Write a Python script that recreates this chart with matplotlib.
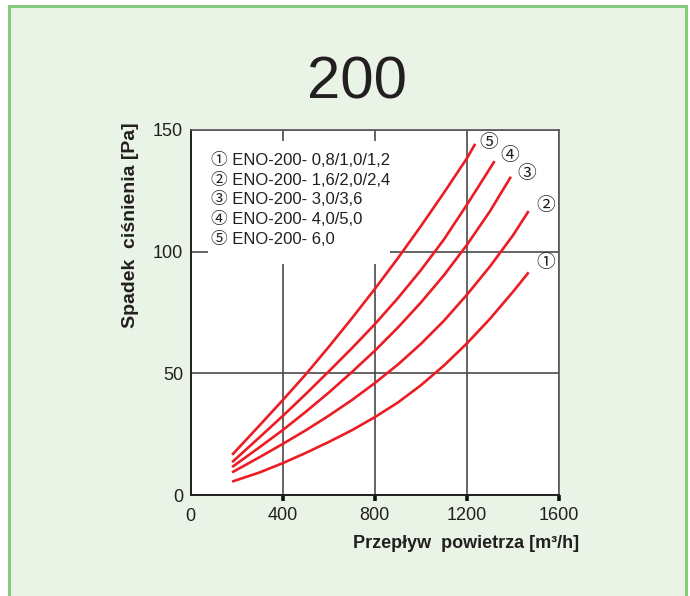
import matplotlib
matplotlib.use("Agg")
import matplotlib.pyplot as plt
from matplotlib.patches import Rectangle

# ---- data ----
flow_1 = [180, 300, 400, 500, 600, 700, 800, 900, 1000, 1100, 1200, 1300, 1400, 1468]
dp_1 = [5.5, 9.3, 13.1, 17.3, 21.8, 26.6, 32.0, 38.0, 45.1, 53.2, 62.3, 72.4, 83.5, 91.5]
flow_2 = [180, 300, 400, 500, 600, 700, 800, 900, 1000, 1100, 1200, 1300, 1400, 1468]
dp_2 = [9.3, 15.6, 21.0, 26.6, 32.6, 39.0, 46.0, 53.6, 62.1, 71.6, 82.3, 93.9, 106.7, 116.7]
flow_3 = [180, 300, 400, 500, 600, 700, 800, 900, 1000, 1100, 1200, 1300, 1391]
dp_3 = [11.5, 19.7, 26.7, 34.2, 42.1, 50.5, 59.3, 68.8, 79.1, 90.3, 102.8, 116.6, 130.8]
flow_4 = [180, 300, 400, 500, 600, 700, 800, 900, 1000, 1100, 1200, 1300, 1320]
dp_4 = [13.5, 23.8, 32.5, 41.5, 50.8, 60.3, 70.2, 80.9, 92.4, 105.0, 119.3, 134.2, 137.2]
flow_5 = [180, 300, 400, 500, 600, 700, 800, 900, 1000, 1100, 1200, 1236]
dp_5 = [16.5, 28.7, 39.0, 49.6, 60.9, 72.6, 84.7, 97.3, 110.5, 124.2, 138.4, 144.3]

curve_marks = ["①", "②", "③", "④", "⑤"]
legend_labels = [
    "① ENO-200- 0,8/1,0/1,2",
    "② ENO-200- 1,6/2,0/2,4",
    "③ ENO-200- 3,0/3,6",
    "④ ENO-200- 4,0/5,0",
    "⑤ ENO-200- 6,0",
]
x_ticks = [0, 400, 800, 1200, 1600]
x_ticklabels = ["", "400", "800", "1200", "1600"]
y_ticks = [0, 50, 100, 150]
title = "200"
xlabel = "Przepływ  powietrza [m³/h]"
ylabel = "Spadek  ciśnienia [Pa]"

FONT = ["Liberation Sans", "Noto Sans CJK JP", "DejaVu Sans"]
plt.rcParams["font.family"] = FONT
TXT = "#231f20"
RED = "#ec1c24"

fig = plt.figure(figsize=(6.9, 5.96), dpi=100)
fig.patch.set_facecolor("white")
frame = Rectangle((9 / 690, -0.05), (686 - 9) / 690, 1 - 6 / 596 + 0.05,
                  transform=fig.transFigure, facecolor="#e9f4e7",
                  edgecolor="#86ca7e", linewidth=2.2, zorder=0)
fig.add_artist(frame)

fig.text(357 / 690, 1 - 83 / 596, title, ha="center", va="center",
         fontsize=43, color=TXT)

ax = fig.add_axes([190.7 / 690, 1 - 495 / 596, (559 - 190.7) / 690, (495 - 130) / 596])
ax.set_facecolor("white")
ax.set_xlim(0, 1600)
ax.set_ylim(0, 150)
ax.set_axisbelow(True)
ax.grid(True, color="#4a4a4a", linewidth=1.2)

for side in ["left", "bottom"]:
    ax.spines[side].set_color("#231f20")
    ax.spines[side].set_linewidth(1.4)
for side in ["top", "right"]:
    ax.spines[side].set_color("#555555")
    ax.spines[side].set_linewidth(1.2)

ax.set_xticks(x_ticks)
ax.set_xticklabels(x_ticklabels)
ax.set_yticks(y_ticks)
ax.tick_params(axis="x", direction="out", length=4, width=2.6, color="#111111",
               labelsize=13, pad=5, labelcolor=TXT)
ax.tick_params(axis="y", length=0, labelsize=13, pad=5.5, labelcolor=TXT)
ax.xaxis.get_major_ticks()[0].tick1line.set_visible(False)
ax.text(0, -0.058, "0", transform=ax.get_xaxis_transform(), ha="center",
        va="center", fontsize=13, color=TXT)

# legend box covering the grid
ax.add_patch(Rectangle((0.047, 0.633), 0.494, 0.337, transform=ax.transAxes,
                       facecolor="white", edgecolor="none", zorder=1))
ax.text(0.054, 0.810, "\n".join(legend_labels), transform=ax.transAxes,
        ha="left", va="center", fontsize=12, color=TXT, linespacing=1.28,
        zorder=3)

flows = [flow_1, flow_2, flow_3, flow_4, flow_5]
dps = [dp_1, dp_2, dp_3, dp_4, dp_5]
offsets = [(17, 9), (17, 5), (16, 2), (15, 5), (14, 0)]
for f, d, mark, off in zip(flows, dps, curve_marks, offsets):
    ax.plot(f, d, color=RED, linewidth=1.9, solid_joinstyle="round",
            solid_capstyle="butt", zorder=2)
    ax.annotate(mark, (f[-1], d[-1]), xytext=off, textcoords="offset pixels",
                ha="center", va="center", fontsize=13.5, color=TXT)

ax.set_xlabel(xlabel, fontsize=13, fontweight="bold", color=TXT)
ax.xaxis.set_label_coords((466 - 190.7) / 368.3, (495 - 535) / 365)
ax.set_ylabel(ylabel, fontsize=14, fontweight="bold", color=TXT)
ax.yaxis.set_label_coords((139 - 190.7) / 368.3, (495 - 225) / 365)

fig.savefig("out.png", dpi=100, facecolor=fig.get_facecolor())
